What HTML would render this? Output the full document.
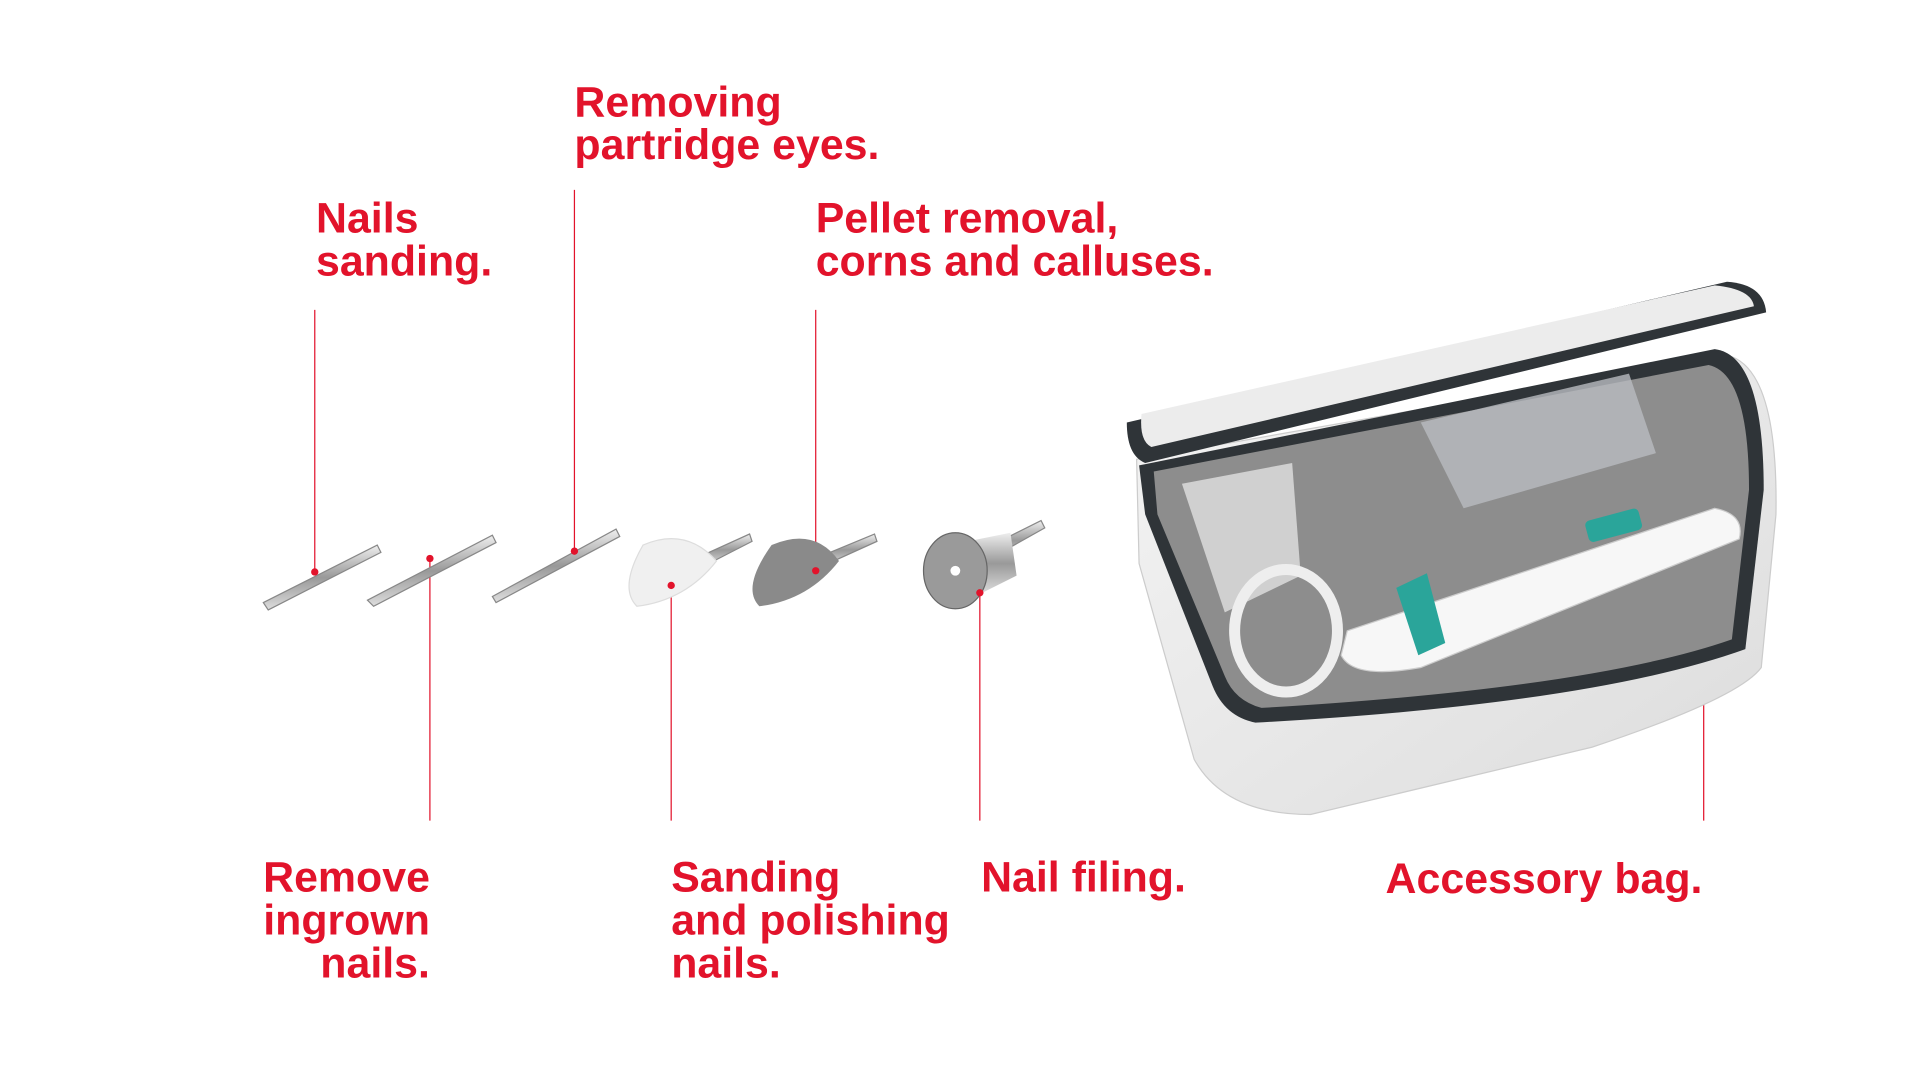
<!DOCTYPE html>
<html><head><meta charset="utf-8"><style>
html,body{margin:0;padding:0;background:#fff;width:1920px;height:1080px;overflow:hidden}
#s{position:absolute;left:0;top:0;width:1552px;height:873px;transform:scale(1.2248);transform-origin:0 0}
.t{position:absolute;color:#e2132b;font-family:"Liberation Sans Narrow","Liberation Sans",sans-serif;font-weight:bold;font-size:35px;line-height:35px;white-space:nowrap;letter-spacing:0px}
.r{text-align:right}
</style></head><body><div id="s">
<svg width="1552" height="873" style="position:absolute;left:0;top:0">
<defs>
<linearGradient id="m" x1="0" y1="0" x2="0" y2="1"><stop offset="0" stop-color="#eee"/><stop offset=".5" stop-color="#999"/><stop offset="1" stop-color="#ddd"/></linearGradient>
<linearGradient id="bag" x1="0" y1="0" x2="1" y2="1"><stop offset="0" stop-color="#f4f4f4"/><stop offset="1" stop-color="#dcdcdc"/></linearGradient>
</defs>
<g stroke="#e2132b" stroke-width="1">
<line x1="257" y1="253" x2="257" y2="467"/><line x1="469" y1="155" x2="469" y2="450"/>
<line x1="666" y1="253" x2="666" y2="466"/><line x1="351" y1="456" x2="351" y2="670"/>
<line x1="548" y1="478" x2="548" y2="670"/><line x1="800" y1="484" x2="800" y2="670"/>
<line x1="1391" y1="484" x2="1391" y2="670"/>
</g>
<g stroke="#888" stroke-width="1">
<path d="M215 492 L308 445 L311 451 L219 498Z" fill="url(#m)"/>
<path d="M300 490 L402 437 L405 443 L305 495Z" fill="url(#m)"/>
<path d="M402 487 L503 432 L506 438 L405 492Z" fill="url(#m)"/>
<path d="M570 455 L612 436 L614 442 L575 462Z" fill="url(#m)"/>
<path d="M668 455 L714 436 L716 442 L672 462Z" fill="url(#m)"/>
<path d="M800 450 L850 425 L853 431 L805 458Z" fill="url(#m)"/>
</g>
<path d="M525 445 Q560 430 585 458 Q560 490 520 495 Q505 480 525 445Z" fill="#f0f0f0" stroke="#ddd"/>
<path d="M630 445 Q665 430 685 458 Q660 490 620 495 Q605 480 630 445Z" fill="#8a8a8a"/>
<path d="M790 442 L825 435 L830 470 L800 485Z" fill="url(#m)"/>
<ellipse cx="780" cy="466" rx="26" ry="31" fill="#9a9a9a" stroke="#666"/>
<circle cx="780" cy="466" r="4" fill="#fff"/>
<g fill="#e2132b"><circle cx="257" cy="467" r="3"/><circle cx="351" cy="456" r="3"/><circle cx="469" cy="450" r="3"/><circle cx="548" cy="478" r="3"/><circle cx="666" cy="466" r="3"/><circle cx="800" cy="484" r="3"/><circle cx="1391" cy="484" r="3"/></g>
<path d="M928 375 L1410 290 Q1452 300 1450 420 L1438 545 Q1420 570 1300 610 L1070 665 Q1000 665 975 620 L930 460Z" fill="url(#bag)" stroke="#ccc"/>
<path d="M930 380 L1400 285 Q1440 290 1440 400 L1425 530 Q1300 575 1025 590 Q1000 585 990 560 L935 420Z" fill="#2f3438"/>
<path d="M942 385 L1395 298 Q1428 305 1428 400 L1414 522 Q1300 562 1030 578 Q1008 572 1000 552 L945 420Z" fill="#8d8d8d"/>
<path d="M1160 345 L1330 305 L1352 370 L1195 415Z" fill="#b9bcc0" opacity=".8"/>
<path d="M965 395 L1055 378 L1062 470 L1000 500Z" fill="#d0d0d0"/>
<ellipse cx="1050" cy="515" rx="42" ry="50" fill="none" stroke="#eee" stroke-width="9"/>
<path d="M1100 515 L1400 415 Q1425 420 1420 440 L1160 545 Q1105 555 1095 535Z" fill="#f7f7f7" stroke="#ccc"/>
<path d="M1140 480 L1165 468 L1180 525 L1158 535Z" fill="#2aa59a"/>
<rect x="1295" y="420" width="45" height="18" rx="4" fill="#2aa59a" transform="rotate(-15 1317 429)"/>
<path d="M920 345 L1410 230 Q1440 232 1442 255 L935 378 Q920 372 920 345Z" fill="#2f3438"/>
<path d="M932 338 L1400 233 Q1430 236 1432 250 L940 365 Q930 360 932 338Z" fill="#ececec"/>
</svg>
<div class="t" style="left:469px;top:66px">Removing<br>partridge eyes.</div>
<div class="t" style="left:258px;top:161px">Nails<br>sanding.</div>
<div class="t" style="left:666px;top:161px">Pellet removal,<br>corns and calluses.</div>
<div class="t r" style="right:1201px;top:699px">Remove<br>ingrown<br>nails.</div>
<div class="t" style="left:548px;top:699px">Sanding<br>and polishing<br>nails.</div>
<div class="t" style="left:801px;top:699px">Nail filing.</div>
<div class="t r" style="right:162px;top:700px">Accessory bag.</div>
</div></body></html>
